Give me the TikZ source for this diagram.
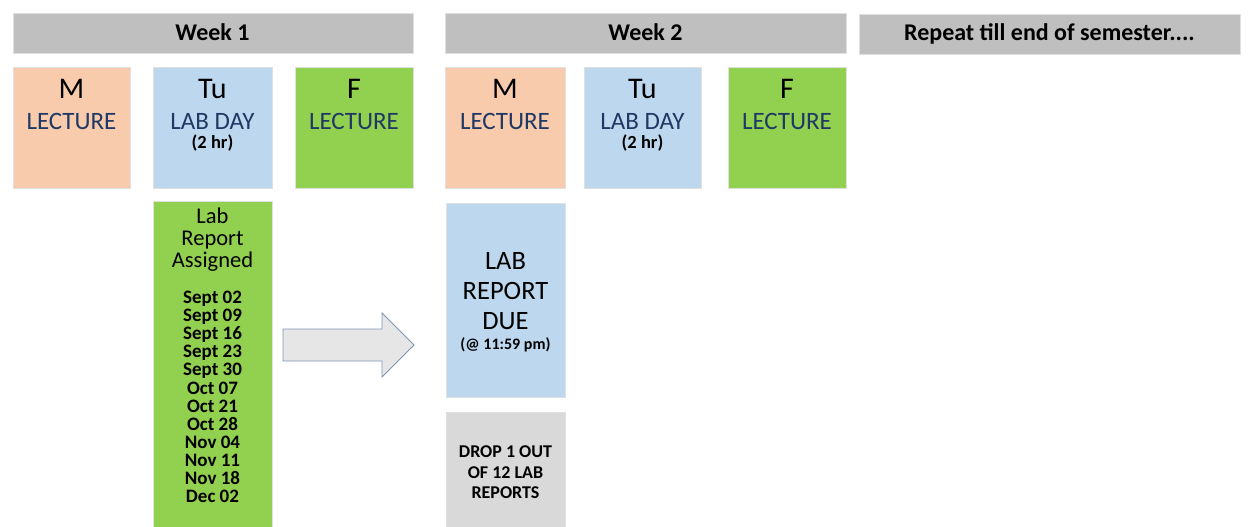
\documentclass[tikz,border=0pt]{standalone}
\usepackage{fontspec}
\setmainfont{Carlito}
\definecolor{peach}{HTML}{F8CBAD}
\definecolor{lblue}{HTML}{BDD7EE}
\definecolor{lgreen}{HTML}{92D050}
\definecolor{barg}{HTML}{BFBFBF}
\definecolor{dropg}{HTML}{D9D9D9}
\definecolor{arrfill}{HTML}{E7E6E6}
\definecolor{arrline}{HTML}{7F96B6}
\definecolor{dblue}{HTML}{203864}
\begin{document}
\begin{tikzpicture}[x=1pt,y=-1pt,
  box/.style={draw=black!12, line width=0.6pt, anchor=north west, inner sep=0pt},
  bar/.style={box, fill=barg, minimum height=40pt},
  day/.style={anchor=base, inner sep=0pt, font=\fontsize{30}{32}\selectfont},
  what/.style={anchor=base, inner sep=0pt, text=dblue, font=\fontsize{25}{27}\selectfont},
  hr/.style={anchor=base, inner sep=0pt, font=\bfseries\fontsize{18.5}{20}\selectfont},
  head/.style={anchor=base, inner sep=0pt, font=\bfseries\fontsize{24}{26}\selectfont},
  labt/.style={anchor=base, inner sep=0pt, font=\fontsize{22.5}{24}\selectfont},
  datet/.style={anchor=base, inner sep=0pt, font=\bfseries\fontsize{19}{20}\selectfont},
  duet/.style={anchor=base, inner sep=0pt, font=\fontsize{26.5}{28}\selectfont},
  duesm/.style={anchor=base, inner sep=0pt, font=\bfseries\fontsize{16}{18}\selectfont},
  dropt/.style={anchor=base, inner sep=0pt, font=\bfseries\fontsize{18}{20}\selectfont}]
\path[use as bounding box] (0,0) rectangle (1248,527);
% header bars
\node[bar, minimum width=400pt] (w1) at (13,13) {};
\node[bar, minimum width=401pt] (w2) at (445,13) {};
\node[bar, minimum width=381pt] (rep) at (859,14) {};
\node[head] (w1t) at (212.5,41) {Week 1};
\node[head] (w2t) at (645.5,41) {Week 2};
\node[head] (rept) at (1049.5,41) {Repeat till end of semester....};
% week 1 days
\node[box, fill=peach, minimum width=117pt, minimum height=121pt] (m1) at (13,67) {};
\node[box, fill=lblue, minimum width=119pt, minimum height=121pt] (tu1) at (153,67) {};
\node[box, fill=lgreen, minimum width=118pt, minimum height=121pt] (f1) at (295,67) {};
\node[day] (m1a) at (71.5,99) {M};
\node[what] (m1b) at (71.5,129) {LECTURE};
\node[day] (tu1a) at (212.5,99) {Tu};
\node[what] (tu1b) at (212.5,129) {LAB DAY};
\node[hr] (tu1c) at (212.5,148) {(2 hr)};
\node[day] (f1a) at (354,99) {F};
\node[what] (f1b) at (354,129) {LECTURE};
% week 2 days
\node[box, fill=peach, minimum width=120pt, minimum height=121pt] (m2) at (445,67) {};
\node[box, fill=lblue, minimum width=117pt, minimum height=121pt] (tu2) at (584,67) {};
\node[box, fill=lgreen, minimum width=118pt, minimum height=121pt] (f2) at (728,67) {};
\node[day] (m2a) at (505,99) {M};
\node[what] (m2b) at (505,129) {LECTURE};
\node[day] (tu2a) at (642.5,99) {Tu};
\node[what] (tu2b) at (642.5,129) {LAB DAY};
\node[hr] (tu2c) at (642.5,148) {(2 hr)};
\node[day] (f2a) at (787,99) {F};
\node[what] (f2b) at (787,129) {LECTURE};
% lab report assigned
\node[box, fill=lgreen, minimum width=119pt, minimum height=330pt] (lab) at (153,201) {};
\node[labt] (lab1) at (212.5,223) {Lab};
\node[labt] (lab2) at (212.5,245.5) {Report};
\node[labt] (lab3) at (212.5,267.5) {Assigned};
\foreach \d [count=\i] in {Sept 02,Sept 09,Sept 16,Sept 23,Sept 30,Oct 07,Oct 21,Oct 28,Nov 04,Nov 11,Nov 18,Dec 02}
  \node[datet] (d\i) at (212.5,{303.5+18.1*(\i-1)}) {\d};
% arrow
\draw[fill=arrfill, draw=arrline, line width=0.9pt, line join=miter]
  (283,329) -- (382,329) -- (382,313) -- (414,345) -- (382,377) -- (382,361) -- (283,361) -- cycle;
% due
\node[box, fill=lblue, minimum width=119pt, minimum height=194pt] (due) at (446,203) {};
\node[duet] (due1) at (505.5,269.5) {LAB};
\node[duet] (due2) at (505.5,299.5) {REPORT};
\node[duet] (due3) at (505.5,329) {DUE};
\node[duesm] (due4) at (505.5,349.5) {(@ 11:59 pm)};
% drop
\node[box, fill=dropg, minimum width=119pt, minimum height=120pt] (drop) at (446,412) {};
\node[dropt] (drop1) at (505.5,457.5) {DROP 1 OUT};
\node[dropt] (drop2) at (505.5,478) {OF 12 LAB};
\node[dropt] (drop3) at (505.5,498) {REPORTS};
\end{tikzpicture}
\end{document}
